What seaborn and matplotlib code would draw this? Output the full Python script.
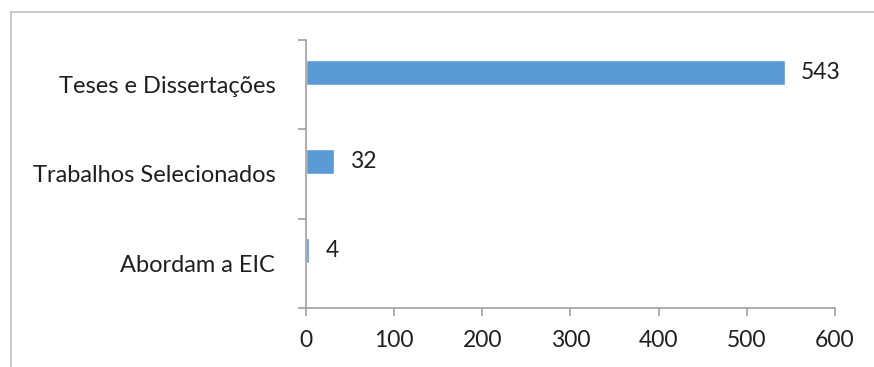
import matplotlib
matplotlib.use("Agg")
import matplotlib.pyplot as plt
import seaborn as sns
import pandas as pd
from matplotlib.lines import Line2D

categories = ["Teses e Dissertações", "Trabalhos Selecionados", "Abordam a EIC"]
values = [543, 32, 4]
x_ticks = [0, 100, 200, 300, 400, 500, 600]

df = pd.DataFrame({"categoria": categories, "valor": values, "serie": ["S1"] * len(categories)})

sns.set_theme(style="white")
plt.rcParams['font.family'] = ['Lato', 'DejaVu Sans']

fig = plt.figure(figsize=(8.74, 3.67), dpi=100)
ax = fig.add_axes([0.350, 0.161, 0.6054, 0.730])

# clustered layout with an empty second series (Excel-like offset)
sns.barplot(data=df, y="categoria", x="valor", hue="serie", hue_order=["S1", "S2"],
            palette={"S1": "#5B9BD5", "S2": "#ED7D31"}, orient="h", dodge=True,
            saturation=1, width=0.56, ax=ax, legend=False)

txt = "#1F1F1F"
for i, v in enumerate(values):
    ax.text(v + 18, i - 0.14, str(v), va="center", ha="left", fontsize=16.5, color=txt)

ax.set_xlim(0, 600)
ax.set_ylim(2.5, -0.5)
ax.set_xticks(x_ticks)
ax.set_xticklabels([str(t) for t in x_ticks], fontsize=16.5, color=txt)
ax.set_yticks(range(len(categories)))
ax.set_yticklabels(categories, fontsize=17, color=txt)
ax.set_yticks([-0.5, 0.5, 1.5, 2.5], minor=True)
ax.set_xlabel("")
ax.set_ylabel("")

spine_c = "#A0A0A0"
for s in ["top", "right"]:
    ax.spines[s].set_visible(False)
for s in ["left", "bottom"]:
    ax.spines[s].set_color(spine_c)
    ax.spines[s].set_linewidth(1.2)

ax.tick_params(axis="y", which="major", length=0, pad=22)
ax.tick_params(axis="y", which="minor", length=6, color=spine_c, width=1.2, direction="out", left=True)
ax.tick_params(axis="x", which="major", length=6, color=spine_c, width=1.2, direction="out", bottom=True, pad=10)

# outer chart border (left and top visible)
fig.add_artist(Line2D([11/874, 11/874], [0, 1 - 12/367], transform=fig.transFigure, color="#BFBFBF", lw=1.2))
fig.add_artist(Line2D([11/874, 1], [1 - 12/367, 1 - 12/367], transform=fig.transFigure, color="#BFBFBF", lw=1.2))

fig.savefig("out.png", dpi=100)
